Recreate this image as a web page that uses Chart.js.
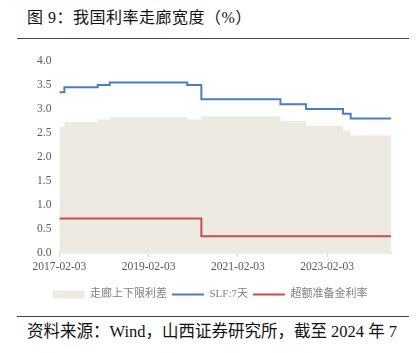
<!DOCTYPE html>
<html lang="zh-CN">
<head>
<meta charset="UTF-8">
<title>我国利率走廊宽度</title>
<script src="https://cdn.jsdelivr.net/npm/chart.js@4.4.0/dist/chart.umd.min.js"></script>
<style>
  body { margin: 0; width: 419px; height: 353px; background: #fff; position: relative; overflow: hidden;
         font-family: 'Liberation Serif', 'Noto Sans CJK SC', serif; }
  #title { position: absolute; left: 27px; top: 7px; font-size: 16px; line-height: 22px; color: #111;
           white-space: nowrap; letter-spacing: 0.5px; }
  .rule { position: absolute; left: 17px; width: 392px; height: 0; border-top: 1.5px solid #444; }
  #source { position: absolute; left: 27px; top: 321px; font-size: 16.5px; line-height: 22px; color: #111;
            white-space: nowrap; }
  #wrap { position: absolute; left: 0; top: 46px; width: 419px; height: 264px; }
</style>
</head>
<body>
<div id="title">图 9：我国利率走廊宽度（%）</div>
<div class="rule" style="top:38px"></div>
<div id="wrap"><canvas id="chart"></canvas></div>
<div class="rule" style="top:316px"></div>
<div id="source">资料来源：Wind，山西证券研究所，截至 2024 年 7</div>
<script>
// dates where the rates change (last one = end of the series)
const dates = ['2017-02-03', '2017-03-16', '2017-12-14', '2018-03-22', '2019-12-16', '2020-04-10',
               '2022-01-17', '2022-08-15', '2023-06-13', '2023-08-15', '2024-07-10'];
const slf7d    = [3.35, 3.45, 3.50, 3.55, 3.50, 3.20, 3.10, 3.00, 2.90, 2.80, 2.80];
const corridor = [2.63, 2.73, 2.78, 2.83, 2.78, 2.85, 2.75, 2.65, 2.55, 2.45, 2.45];
const reserveDates = ['2017-02-03', '2020-04-10', '2024-07-10'];
const excessReserve = [0.72, 0.35, 0.35];
const tickDates = ['2017-02-03', '2019-02-03', '2021-02-03', '2023-02-03'];

const toMs = d => Date.parse(d + 'T00:00:00Z');
const pts = (ds, vs) => ds.map((d, i) => ({ x: toMs(d), y: vs[i] }));

const serif = "'Liberation Serif', 'Noto Sans CJK SC', serif";

new Chart(document.getElementById('chart'), {
  type: 'line',
  data: {
    datasets: [
      {
        label: '走廊上下限利差',
        data: pts(dates, corridor),
        stepped: true,
        fill: 'origin',
        backgroundColor: '#ECEAE1',
        borderColor: '#ECEAE1',
        borderWidth: 0,
        pointRadius: 0,
        pointStyle: 'rect',
        order: 3
      },
      {
        label: 'SLF:7天',
        data: pts(dates, slf7d),
        stepped: true,
        fill: false,
        borderColor: '#4A7EC3',
        backgroundColor: '#4A7EC3',
        borderWidth: 2,
        pointRadius: 0,
        pointStyle: 'line',
        order: 1
      },
      {
        label: '超额准备金利率',
        data: pts(reserveDates, excessReserve),
        stepped: true,
        fill: false,
        borderColor: '#CC4B4B',
        backgroundColor: '#CC4B4B',
        borderWidth: 2,
        pointRadius: 0,
        pointStyle: 'line',
        order: 2
      }
    ]
  },
  options: {
    responsive: true,
    maintainAspectRatio: false,
    animation: false,
    layout: { padding: { left: 29, right: 28, top: 3, bottom: 0 } },
    scales: {
      x: {
        type: 'linear',
        min: toMs(dates[0]),
        max: toMs(dates[dates.length - 1]),
        afterBuildTicks: axis => { axis.ticks = tickDates.map(d => ({ value: toMs(d) })); },
        afterFit: axis => { axis.height += 7; },
        ticks: {
          autoSkip: false,
          maxRotation: 0,
          padding: 3,
          color: '#595959',
          font: { family: serif, size: 11.5 },
          callback: (v, i) => tickDates[i]
        },
        grid: { drawOnChartArea: false, drawTicks: true, tickLength: 4, color: '#D9D9D9' },
        border: { display: true, color: '#D9D9D9', width: 1.5 }
      },
      y: {
        min: 0,
        max: 4,
        ticks: {
          stepSize: 0.5,
          padding: 8,
          color: '#595959',
          font: { family: serif, size: 11.5 },
          callback: v => v.toFixed(1)
        },
        grid: { display: false, drawTicks: false },
        border: { display: false }
      }
    },
    plugins: {
      legend: {
        position: 'bottom',
        labels: {
          usePointStyle: true,
          pointStyleWidth: 32,
          boxHeight: 8,
          padding: 5,
          color: '#7F7F7F',
          font: { family: serif, size: 11 },
          sort: (a, b) => a.datasetIndex - b.datasetIndex
        }
      },
      tooltip: { enabled: false }
    }
  }
});
</script>
</body>
</html>
